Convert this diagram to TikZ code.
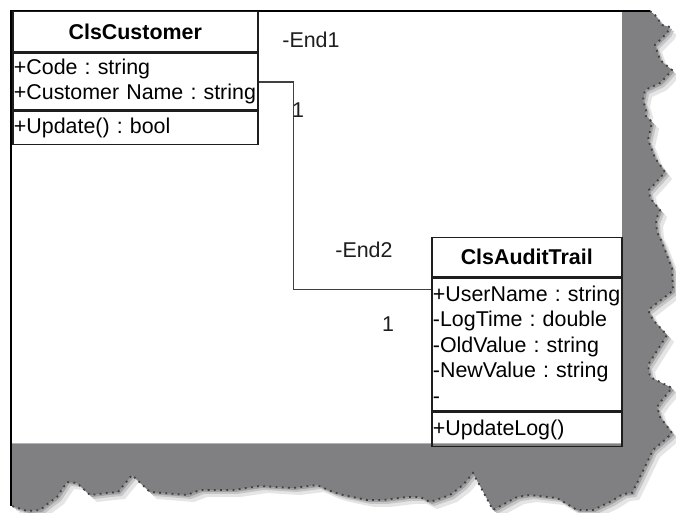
\documentclass[tikz,border=0pt]{standalone}
\usepackage{fontspec}
\setmainfont{Liberation Sans}
\frenchspacing
\usetikzlibrary{positioning,calc}
\definecolor{shadowgray}{RGB}{128,127,129}
\definecolor{ink}{RGB}{30,30,30}
\tikzset{
  clshead/.style ={draw=ink, line width=0.75pt, rectangle, align=center, font=\fontsize{10.7}{12.6}\selectfont\bfseries, inner sep=0pt},
  clsbody/.style ={draw=ink, line width=0.75pt, rectangle, align=left, inner xsep=0.6pt, inner ysep=0pt},
  assoc/.style   ={draw=ink!85, line width=0.9pt},
  role/.style    ={inner sep=0pt, text=ink},
  torn/.style    ={draw=black!75, line width=0.9pt, dash pattern=on 0.9pt off 2.2pt},
}
% jagged edge of the page shadow, in pixels
\def\tornpts{655/15, 662/25, 670/27, 667/33, 655/45, 660/60, 672/70, 665/78, 660/83, 645/90, 643/100, 646/110, 645/115, 652/122, 648/140, 652/150, 655/158, 665/172, 660/178, 649/190, 650/198, 660/210, 656/220, 657/232, 661/240, 668/258, 672/268, 673/290, 670/293, 648/310, 653/320, 667/335, 648/365, 650/377, 660/382, 672/388, 662/400, 657/407, 660/417, 672/433, 667/438, 653/450, 640/477, 632/493, 623/494, 610/502, 593/510, 577/510, 557/498, 530/495, 517/497, 493/510, 473/473, 463/485, 450/495, 430/502, 420/497, 407/497, 383/500, 367/500, 343/495, 333/492, 317/485, 293/488, 260/486, 233/490, 200/490, 187/495, 150/492, 132/475, 118/492, 107/493, 90/495, 77/483, 67/482, 57/497, 50/502, 40/510, 27/511, 12/506}

\begin{document}
\begin{tikzpicture}[x=0.5pt, y=-0.5pt, font=\fontsize{10.7}{12.6}\selectfont]
  \useasboundingbox (0,0) rectangle (676,513);
  \fill[white] (0,0) rectangle (676,513);

  % page with torn shadow
  \foreach \dx/\dy/\c in {7/7/shadowgray!20, 4/4/shadowgray!45, 2/2/shadowgray!75, 0/0/shadowgray}
    \fill[fill=\c, shift={(\dx,\dy)}] (11,11) -- (650,11) \foreach \x/\y in \tornpts {-- (\x,\y)} -- cycle;
  \fill[white] (11,11) rectangle (622,443);
  \draw[gray!60, line width=0.5pt] (11,444) -- (622,444);
  \draw[torn] (650,11) \foreach \x/\y in \tornpts {-- (\x,\y)};
  \draw[black, line width=0.8pt] (11,506) -- (11,11) -- (650,11);

  % ClsCustomer
  \node[clshead, anchor=north west, minimum width=122.5pt, minimum height=20pt] (custhead) at (12,11) {ClsCustomer};
  \node[clsbody, text width=121.3pt, minimum height=28.5pt, below=0pt of custhead] (custattr) {+Code : string\\+Customer Name : string};
  \node[clsbody, text width=121.3pt, minimum height=16.5pt, below=0pt of custattr] (custmeth) {+Update() : bool};

  % ClsAuditTrail
  \node[clshead, anchor=north west, minimum width=95pt, minimum height=19.5pt] (audithead) at (431,237) {ClsAuditTrail};
  \node[clsbody, text width=93.8pt, minimum height=66.5pt, below=0pt of audithead, font=\fontsize{10.7}{12.75}\selectfont] (auditattr)
    {+UserName : string\\-LogTime : double\\-OldValue : string\\-NewValue : string\\-};
  \node[clsbody, text width=93.8pt, minimum height=17pt, below=0pt of auditattr] (auditmeth) {+UpdateLog()};

  \draw[assoc] (custattr.east) -- ++(35,0) |- ([yshift=-6pt]auditattr.north west);

  \node[role] (end1) at (311,40) {-End1};
  \node[role] (mult1) at (298,110) {1};
  \node[role] (end2) at (364,250) {-End2};
  \node[role] (mult2) at (388,324) {1};
\end{tikzpicture}
\end{document}
